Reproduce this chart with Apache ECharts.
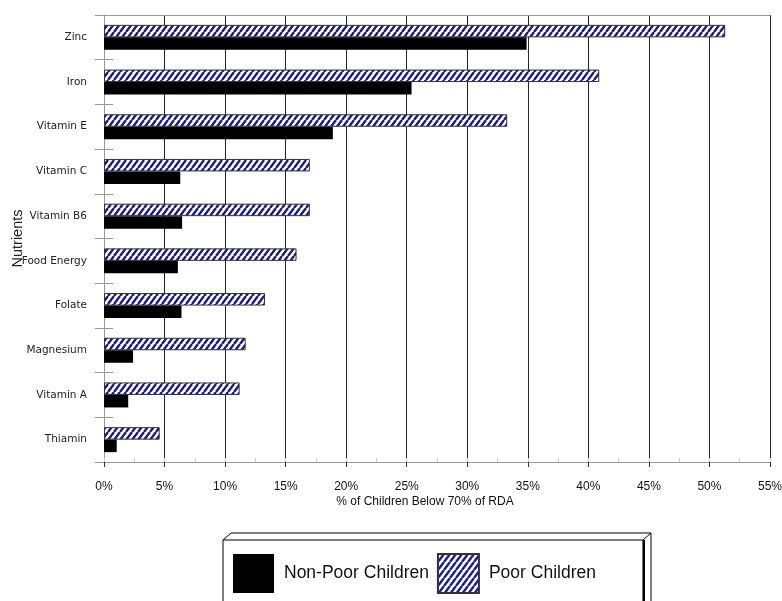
<!DOCTYPE html>
<html>
<head>
<meta charset="utf-8">
<script src="https://cdn.jsdelivr.net/npm/echarts@6/dist/echarts.min.js"></script>
<style>
  html, body { margin: 0; padding: 0; background: #fff; }
  #Charts { width: 782px; height: 601px; }
</style>
</head>
<body>
<div id="Charts"></div>
<script>
// nutrients, top to bottom
let nutrients = ['Zinc', 'Iron', 'Vitamin E', 'Vitamin C', 'Vitamin B6', 'Food Energy', 'Folate', 'Magnesium', 'Vitamin A', 'Thiamin']
// % of children below 70% of RDA
let nonPoor = [34.9, 25.4, 18.9, 6.3, 6.45, 6.1, 6.4, 2.4, 2.0, 1.05]
let poor = [51.3, 40.9, 33.3, 17.0, 17.0, 15.9, 13.3, 11.7, 11.2, 4.6]
let seriesNames = ['Non-Poor Children', 'Poor Children']

// diagonal hatch for the poor bars (steep "/" stripes)
function makeHatch() {
	let w = 6, h = 8
	let c = document.createElement('canvas')
	c.width = w
	c.height = h
	let ctx = c.getContext('2d')
	ctx.fillStyle = '#ffffff'
	ctx.fillRect(0, 0, w, h)
	ctx.strokeStyle = '#1a1a82'
	ctx.lineWidth = 2.4
	ctx.beginPath()
	for (let k = -1; k <= 1; k++) {
		ctx.moveTo(k * w, h)
		ctx.lineTo(k * w + w, 0)
	}
	ctx.stroke()
	return c
}
let hatch = { image: makeHatch(), repeat: 'repeat' }

var chart = echarts.init(document.getElementById('Charts'))

let labelFont = 'Liberation Sans, Arial, sans-serif'

option = {
	backgroundColor: '#ffffff',
	animation: false,
	grid: { left: 104, right: 12, top: 15, bottom: 139, containLabel: false, outerBoundsMode: 'none' },
	legend: {
		data: seriesNames,
		left: 223,
		top: 540,
		orient: 'horizontal',
		backgroundColor: '#ffffff',
		borderColor: '#000',
		borderWidth: 1,
		borderRadius: 0,
		padding: [13, 47, 30, 10],
		itemWidth: 41,
		itemHeight: 39,
		itemGap: 8,
		icon: 'rect',
		textStyle: { fontSize: 17.5, fontFamily: labelFont, color: '#111', padding: [0, 0, 0, 5] }
	},
	xAxis: [
		{
			type: 'value',
			min: 0, max: 55, interval: 5,
			name: '% of Children Below 70% of RDA',
			nameLocation: 'middle',
			nameGap: 34,
			nameMoveOverlap: false,
			nameTextStyle: { fontSize: 12, fontFamily: labelFont, color: '#111', padding: [0, 24, 0, 0] },
			axisLine: { show: true, lineStyle: { color: '#999', width: 1 } },
			axisTick: { show: true, length: 5, lineStyle: { color: '#333' } },
			axisLabel: { formatter: '{value}%', margin: 19, fontSize: 12, fontFamily: labelFont, color: '#111' },
			splitLine: { show: true, lineStyle: { color: '#222', width: 1 } }
		},
		{
			// top border
			type: 'value', position: 'top',
			min: 0, max: 55, interval: 5,
			axisLine: { show: true, lineStyle: { color: '#999' } },
			axisTick: { show: false }, axisLabel: { show: false }, splitLine: { show: false }
		},
		{
			// faint half-step ticks
			type: 'value', position: 'bottom',
			min: 0, max: 55, interval: 2.5,
			axisLine: { show: false },
			axisTick: { show: true, inside: true, length: 4, lineStyle: { color: '#ccc' } },
			axisLabel: { show: false }, splitLine: { show: false }
		}
	],
	yAxis: [
		{
			type: 'category',
			data: nutrients,
			inverse: true,
			name: 'Nutrients',
			nameLocation: 'middle',
			nameGap: 79,
			nameMoveOverlap: false,
			nameTextStyle: { fontSize: 14.5, fontFamily: labelFont, color: '#222' },
			axisLine: { show: true, lineStyle: { color: '#999' } },
			axisTick: { show: true, length: 9, lineStyle: { color: '#999' } },
			axisLabel: { margin: 17, fontSize: 10.5, fontFamily: 'DejaVu Sans, sans-serif', color: '#222' }
		},
		{
			type: 'category',
			data: nutrients,
			inverse: true,
			position: 'left',
			axisLine: { show: false },
			axisTick: { show: true, inside: true, length: 9, lineStyle: { color: '#999' } },
			axisLabel: { show: false }
		}
	],
	// poor first so its bar sits on top in each band
	series: [
		{
			name: seriesNames[1],
			type: 'bar',
			data: poor,
			barWidth: 12.5,
			barGap: '0%',
			itemStyle: { color: hatch, borderColor: '#333', borderWidth: 1 }
		},
		{
			name: seriesNames[0],
			type: 'bar',
			data: nonPoor,
			barWidth: 12.5,
			barGap: '0%',
			itemStyle: { color: '#000', borderColor: '#000', borderWidth: 0 }
		}
	],
	graphic: [
		{
			// 3d edge of the legend box
			type: 'polyline',
			shape: { points: [[223, 540], [231, 533], [651, 533], [651, 601]] },
			style: { stroke: '#000', lineWidth: 1, fill: null }
		},
		{
			type: 'line',
			shape: { x1: 643, y1: 540, x2: 651, y2: 533 },
			style: { stroke: '#000', lineWidth: 1 }
		},
		{
			type: 'line',
			shape: { x1: 644, y1: 540, x2: 644, y2: 601 },
			style: { stroke: '#000', lineWidth: 2 }
		}
	]
}

chart.setOption(option)
</script>
</body>
</html>
